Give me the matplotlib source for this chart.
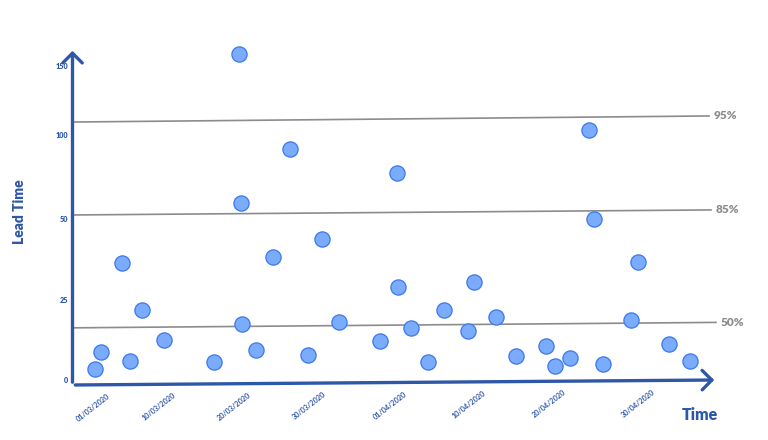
import numpy as np
import matplotlib
matplotlib.use("Agg")
import matplotlib.pyplot as plt
from matplotlib.patches import FancyArrowPatch

plt.rcParams['font.family'] = ['Lato', 'DejaVu Sans']

# ------------------ DATA ------------------

# horizontal position of each point along the time axis
x_pos = [95, 101, 122, 130, 142, 164, 214, 239, 241, 242, 256, 273, 290, 308,
         322, 339, 380, 397, 398, 411, 428, 444, 468, 474, 496, 516, 546, 555,
         570, 589, 594, 603, 631, 638, 669, 690]
# lead time of each point
lead_time = [3.4, 8.8, 36.4, 5.9, 21.9, 12.5, 5.6, 158.7, 59.5, 17.5, 9.4, 38.3,
             91.7, 7.8, 43.8, 18.1, 12.2, 77.4, 29.0, 16.3, 5.6, 21.9, 15.3, 30.6,
             19.7, 7.5, 10.6, 4.4, 6.9, 103.6, 50.0, 5.0, 18.8, 36.7, 11.3, 5.9]

x_tick_pos = [107, 173, 248, 323, 404, 483, 563, 652]
x_tick_labels = ['01/03/2020', '10/03/2020', '20/03/2020', '30/03/2020',
                 '01/04/2020', '10/04/2020', '20/04/2020', '30/04/2020']
y_ticks = [0, 25, 50, 100, 150]

# percentile lines: name, x start, x end, value at start, value at end
pct_names = ['95%', '85%', '50%']
pct_x0 = [73, 73, 73]
pct_x1 = [709, 711, 716]
pct_v0 = [109.4, 52.4, 16.3]
pct_v1 = [113.8, 55.4, 18.0]

# ------------------ UNEVEN Y SCALE ------------------
# tick labels are evenly spaced although their values are not
VK = np.array([0, 25, 50, 100, 150], dtype=float)
PK = np.array([0, 80, 161, 245, 314], dtype=float)
lo_slope = (PK[1] - PK[0]) / (VK[1] - VK[0])
hi_slope = (PK[-1] - PK[-2]) / (VK[-1] - VK[-2])


def fwd(v):
    v = np.asarray(v, dtype=float)
    out = np.interp(v, VK, PK)
    out = np.where(v < VK[0], PK[0] + (v - VK[0]) * lo_slope, out)
    out = np.where(v > VK[-1], PK[-1] + (v - VK[-1]) * hi_slope, out)
    return out


def inv(p):
    p = np.asarray(p, dtype=float)
    out = np.interp(p, PK, VK)
    out = np.where(p < PK[0], VK[0] + (p - PK[0]) / lo_slope, out)
    out = np.where(p > PK[-1], VK[-1] + (p - PK[-1]) / hi_slope, out)
    return out


blue = '#2F57A8'
grey = '#8C8C8C'

fig = plt.figure(figsize=(7.68, 4.4), dpi=100)
ax = fig.add_axes([0, 0, 1, 1])
ax.set_yscale('function', functions=(fwd, inv))
ax.set_xlim(0, 768)
ax.set_ylim(float(inv(-60)), float(inv(380)))
ax.axis('off')

# percentile lines
for name, x0, x1, v0, v1 in zip(pct_names, pct_x0, pct_x1, pct_v0, pct_v1):
    ax.plot([x0, x1], [v0, v1], color=grey, lw=1.2, zorder=1)
    ax.text(x1 + 5, v1, name, color=grey, fontsize=8.5, fontweight='heavy',
            ha='left', va='center')

# scatter points
ax.scatter(x_pos, lead_time, s=120, color='#7BABFB', edgecolor='#3B78F0',
           linewidth=0.9, zorder=3)

# arrow axes (x axis is drawn slightly tilted, as in the original)
ax_x0, ax_v0 = 72.5, -1.56
ax_x1, ax_v1 = 717, 0.0
y_top = 163
arrow_kw = dict(arrowstyle='->,head_length=0.5,head_width=0.5', mutation_scale=14,
                color=blue, lw=2.4, capstyle='round', joinstyle='round', zorder=4)
ax.add_patch(FancyArrowPatch((ax_x0, ax_v0), (ax_x0, y_top), **arrow_kw))
ax.add_patch(FancyArrowPatch((ax_x0, ax_v0), (ax_x1, ax_v1), **arrow_kw))

# y tick labels
for t in y_ticks:
    ax.text(68, t, str(t), color=blue, fontsize=5.2, fontweight='heavy',
            ha='right', va='center')

# x tick labels
for xp, lab in zip(x_tick_pos, x_tick_labels):
    v_axis = ax_v0 + (xp - ax_x0) * (ax_v1 - ax_v0) / (ax_x1 - ax_x0)
    ax.annotate(lab, xy=(xp, v_axis), xytext=(0, -5.5), textcoords='offset points',
                rotation=38, rotation_mode='anchor', ha='right', va='top',
                color=blue, fontsize=5.2, fontweight='bold')

fig.text(19 / 768, 1 - 212 / 440, 'Lead Time', color=blue, fontsize=10,
         fontweight='heavy', rotation=90, ha='center', va='center')
fig.text(700 / 768, 1 - 415 / 440, 'Time', color=blue, fontsize=11.5,
         fontweight='heavy', ha='center', va='center')

fig.savefig('out.png', dpi=100)
